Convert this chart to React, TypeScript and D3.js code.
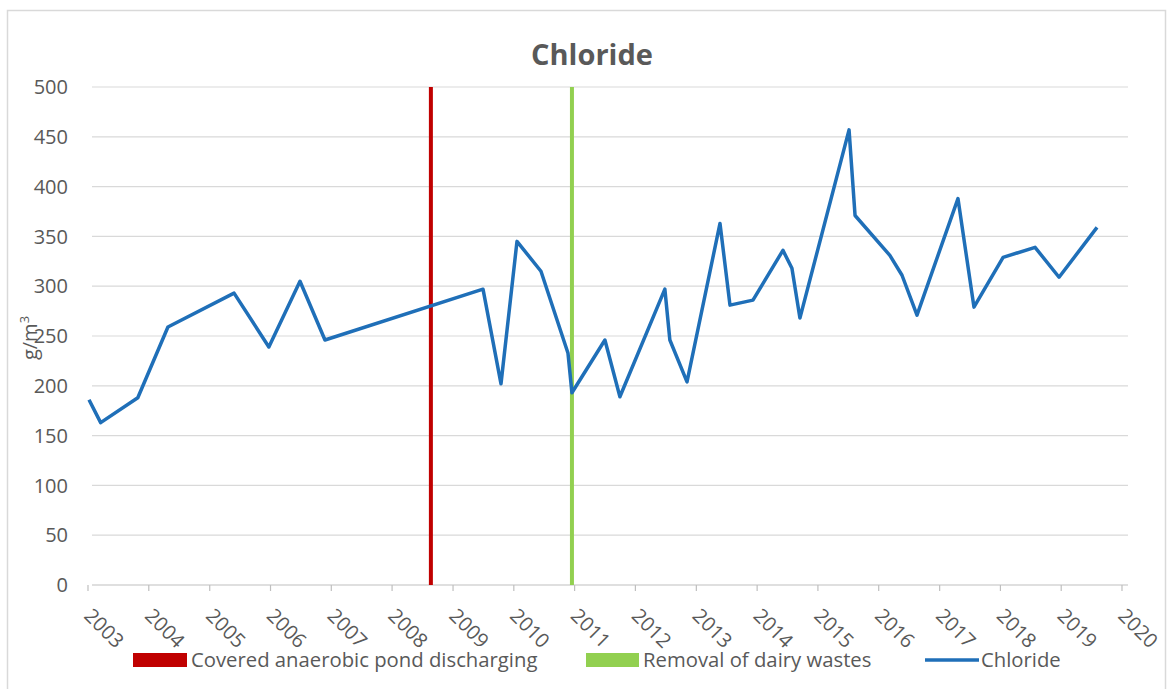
import React from "react";
import * as d3 from "d3";

// ---- data ----
const sampleDates: string[] = [
  "2003-01-07", "2003-03-18", "2003-10-27", "2004-04-25", "2005-05-27", "2005-12-22",
  "2006-06-27", "2006-11-24", "2009-06-30", "2009-10-16", "2010-01-20", "2010-06-13",
  "2010-11-22", "2010-12-16", "2011-07-02", "2011-09-30", "2012-06-26", "2012-07-26",
  "2012-11-06", "2013-05-23", "2013-07-22", "2013-12-07", "2014-06-05", "2014-07-29",
  "2014-09-15", "2015-07-07", "2015-08-12", "2016-03-08", "2016-05-20", "2016-08-18",
  "2017-04-21", "2017-07-26", "2018-01-17", "2018-07-28", "2018-12-19", "2019-08-04",
];
const chlorideValues: number[] = [
  186, 163, 188, 259, 293, 239,
  305, 246, 297, 202, 345, 315,
  233, 193, 246, 189, 297, 246,
  204, 363, 281, 286, 336, 318,
  268, 457, 371, 331, 311, 271,
  388, 279, 329, 339, 309, 359,
];
const eventDates: string[] = ["2008-08-21", "2010-12-16"];
const eventLabels: string[] = ["Covered anaerobic pond discharging", "Removal of dairy wastes"];
const eventColors: string[] = ["#c00000", "#92d050"];
const seriesLabel = "Chloride";
const yTicks: number[] = [0, 50, 100, 150, 200, 250, 300, 350, 400, 450, 500];
const xTickYears: number[] = d3.range(2003, 2021);

const W = 1169;
const H = 689;
const plotLeft = 92;
const plotRight = 1128;
const FONT = "'Open Sans', 'Noto Sans', sans-serif";
const TXT = "#595959";

export default function App() {
  const parse = d3.timeParse("%Y-%m-%d");
  const x = d3
    .scaleTime()
    .domain([new Date(2003, 0, 1), new Date(2020, 0, 1)])
    .range([88, 1122]);
  const y = d3.scaleLinear().domain([0, 500]).range([585, 87]);

  const pts = sampleDates.map((d, i) => ({ date: parse(d) as Date, v: chlorideValues[i] }));
  const line = d3
    .line<{ date: Date; v: number }>()
    .x((d) => x(d.date))
    .y((d) => y(d.v));

  const legendY = 660;

  return (
    <svg
      width={W}
      height={H}
      style={{ position: "absolute", left: 0, top: 0, background: "#fff" }}
      fontFamily={FONT}
    >
      <rect x={0} y={0} width={W} height={H} fill="#fff" />
      <rect x={7.5} y={10.5} width={1158} height={700} fill="none" stroke="#d9d9d9" strokeWidth={1.5} />

      {/* title */}
      <text x={592} y={65} textAnchor="middle" fontSize={29} fontWeight="bold" fill={TXT}>
        Chloride
      </text>

      {/* gridlines */}
      {yTicks.map((t) => (
        <line
          key={"g" + t}
          x1={plotLeft}
          x2={plotRight}
          y1={y(t)}
          y2={y(t)}
          stroke={t === 0 ? "#bfbfbf" : "#d9d9d9"}
          strokeWidth={1.2}
        />
      ))}
      {/* y tick labels */}
      {yTicks.map((t) => (
        <text key={"yl" + t} x={68} y={y(t)} dy="0.36em" textAnchor="end" fontSize={20} fill={TXT}>
          {t}
        </text>
      ))}
      {/* y axis title */}
      <text
        transform={`translate(37, 338) rotate(-90)`}
        textAnchor="middle"
        fontSize={20}
        fill={TXT}
      >
        g/m<tspan dy="-8" fontSize={13}>3</tspan>
      </text>

      {/* x ticks */}
      {xTickYears.map((yr) => {
        const xx = x(new Date(yr, 0, 1));
        return (
          <g key={"xt" + yr}>
            <line x1={xx} x2={xx} y1={585} y2={591} stroke="#bfbfbf" strokeWidth={1.2} />
            <text
              transform={`translate(${xx - 5}, 617) rotate(45)`}
              textAnchor="start"
              fontSize={20}
              fill={TXT}
            >
              {yr}
            </text>
          </g>
        );
      })}

      {/* event lines */}
      {eventDates.map((d, i) => {
        const xx = x(parse(d) as Date);
        return (
          <line
            key={"ev" + i}
            x1={xx}
            x2={xx}
            y1={y(500)}
            y2={y(0)}
            stroke={eventColors[i]}
            strokeWidth={4}
          />
        );
      })}

      {/* chloride series */}
      <path d={line(pts) || ""} fill="none" stroke="#1f6fb8" strokeWidth={3.5} strokeLinejoin="round" />

      {/* legend */}
      <rect x={133} y={legendY - 7} width={54} height={14} fill={eventColors[0]} />
      <text x={191} y={legendY} dy="0.36em" fontSize={20.3} fill={TXT}>
        {eventLabels[0]}
      </text>
      <rect x={586} y={legendY - 7} width={53} height={14} fill={eventColors[1]} />
      <text x={643} y={legendY} dy="0.36em" fontSize={20.3} fill={TXT}>
        {eventLabels[1]}
      </text>
      <line x1={925} x2={979} y1={legendY} y2={legendY} stroke="#1f6fb8" strokeWidth={3.5} />
      <text x={981} y={legendY} dy="0.36em" fontSize={20.3} fill={TXT}>
        {seriesLabel}
      </text>
    </svg>
  );
}
